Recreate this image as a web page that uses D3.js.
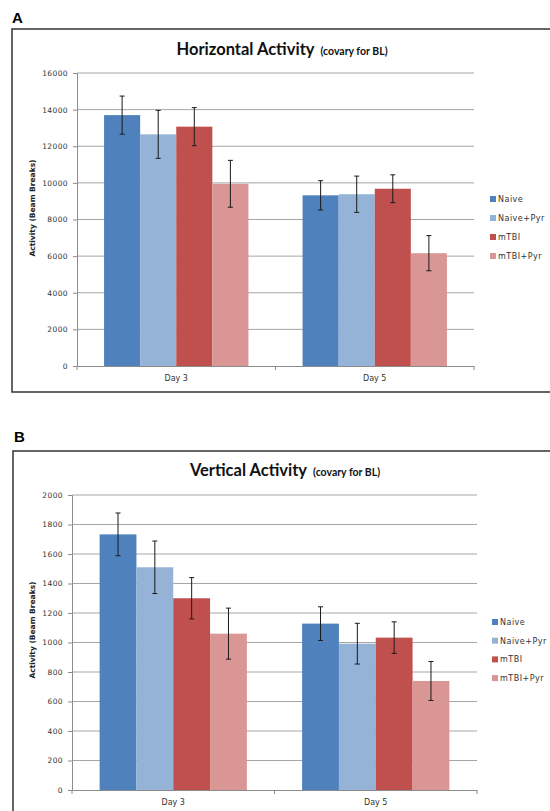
<!DOCTYPE html>
<html><head><meta charset="utf-8">
<script src="https://cdn.jsdelivr.net/npm/d3@7/dist/d3.min.js"></script>
<style>body{margin:0;background:#fff;} svg{display:block;}</style>
</head><body>
<svg id="c" width="550" height="811"></svg>
<script>
const categories = ["Day 3", "Day 5"];
const seriesNames = ["Naive", "Naive+Pyr", "mTBI", "mTBI+Pyr"];
const seriesColors = ["#4F81BD", "#95B3D7", "#C0504D", "#D99694"];

// Horizontal activity (panel A)
const hNaive = [13700, 9320];
const hNaivePyr = [12650, 9380];
const hMTBI = [13070, 9680];
const hMTBIPyr = [9950, 6160];
const hNaiveErr = [1040, 800];
const hNaivePyrErr = [1310, 990];
const hMTBIErr = [1040, 760];
const hMTBIPyrErr = [1280, 960];
const hTicks = [0, 2000, 4000, 6000, 8000, 10000, 12000, 14000, 16000];

// Vertical activity (panel B)
const vNaive = [1733, 1128];
const vNaivePyr = [1510, 992];
const vMTBI = [1300, 1033];
const vMTBIPyr = [1060, 739];
const vNaiveErr = [145, 114];
const vNaivePyrErr = [178, 138];
const vMTBIErr = [140, 107];
const vMTBIPyrErr = [173, 132];
const vTicks = [0, 200, 400, 600, 800, 1000, 1200, 1400, 1600, 1800, 2000];

const svg = d3.select("#c");

function drawPanel(cfg) {
  const g = svg.append("g");
  g.append("text").attr("x", cfg.letterX).attr("y", cfg.letterY)
    .attr("font-family", "Liberation Sans, Arial, sans-serif").attr("font-weight", "bold")
    .attr("font-size", 15).attr("fill", "#000").text(cfg.letter);
  g.append("rect").attr("x", cfg.frame[0]).attr("y", cfg.frame[1])
    .attr("width", cfg.frame[2]).attr("height", cfg.frame[3])
    .attr("fill", "#fff").attr("stroke", "#333").attr("stroke-width", 1.5);
  const t = g.append("text").attr("x", cfg.titleX).attr("y", cfg.titleY)
    .attr("text-anchor", "middle").attr("font-family", "Lato, 'Open Sans', sans-serif")
    .attr("font-weight", "bold").attr("fill", "#111");
  t.append("tspan").attr("font-size", 16.5).text(cfg.title);
  t.append("tspan").attr("font-size", 10.5).attr("dx", 6).text("(covary for BL)");

  const x0 = d3.scaleBand().domain(categories).range([cfg.left, cfg.right]).paddingInner(0).paddingOuter(0);
  // Excel-style gap width of 150%: 0.75 bar width on each side of the group
  const x1 = d3.scaleBand().domain(seriesNames).range([0, x0.bandwidth()]).paddingInner(0).paddingOuter(0.75);
  const y = d3.scaleLinear().domain([0, cfg.ticks[cfg.ticks.length - 1]]).range([cfg.bottom, cfg.top]);

  g.append("g").selectAll("line").data(cfg.ticks.slice(1)).join("line")
    .attr("x1", cfg.left).attr("x2", cfg.right)
    .attr("y1", d => y(d)).attr("y2", d => y(d))
    .attr("stroke", "#a6a6a6").attr("stroke-width", 1);

  const rows = categories.map((c, i) => seriesNames.map((s, j) => ({
    cat: c, s, v: cfg.values[j][i], e: cfg.errors[j][i], color: seriesColors[j]
  })));
  const bg = g.append("g");
  rows.forEach(r => {
    bg.selectAll(null).data(r).join("rect")
      .attr("x", d => x0(d.cat) + x1(d.s))
      .attr("y", d => y(d.v))
      .attr("width", x1.bandwidth())
      .attr("height", d => y(0) - y(d.v))
      .attr("fill", d => d.color);
  });
  const eg = g.append("g").attr("stroke", "#1a1a1a").attr("stroke-width", 1);
  rows.flat().forEach(d => {
    const cx = x0(d.cat) + x1(d.s) + x1.bandwidth() / 2;
    eg.append("line").attr("x1", cx).attr("x2", cx).attr("y1", y(d.v + d.e)).attr("y2", y(d.v - d.e));
    eg.append("line").attr("x1", cx - 2.5).attr("x2", cx + 2.5).attr("y1", y(d.v + d.e)).attr("y2", y(d.v + d.e));
    eg.append("line").attr("x1", cx - 2.5).attr("x2", cx + 2.5).attr("y1", y(d.v - d.e)).attr("y2", y(d.v - d.e));
  });

  const ya = g.append("g").attr("transform", `translate(${cfg.left},0)`)
    .call(d3.axisLeft(y).tickValues(cfg.ticks).tickSize(4).tickPadding(5).tickFormat(d3.format("d")));
  ya.select(".domain").attr("stroke", "#8c8c8c");
  ya.selectAll(".tick line").attr("stroke", "#8c8c8c");
  ya.selectAll("text").attr("font-family", "'DejaVu Sans', sans-serif").attr("font-size", 7.5)
    .attr("fill", "#333").attr("letter-spacing", 0.4);

  const xa = g.append("g").attr("transform", `translate(0,${cfg.bottom})`)
    .call(d3.axisBottom(x0).tickSize(0).tickPadding(9));
  xa.select(".domain").attr("stroke", "#8c8c8c");
  xa.selectAll("text").attr("font-family", "'DejaVu Sans', sans-serif").attr("font-size", 8).attr("fill", "#333");
  const bounds = [cfg.left, x0(categories[1]), cfg.right];
  g.append("g").selectAll("line").data(bounds).join("line")
    .attr("x1", d => d).attr("x2", d => d).attr("y1", cfg.bottom).attr("y2", cfg.bottom + 4)
    .attr("stroke", "#8c8c8c");

  g.append("text").attr("transform", `translate(${cfg.yTitleX},${cfg.yTitleY}) rotate(-90)`)
    .attr("text-anchor", "middle").attr("font-family", "'DejaVu Sans', sans-serif")
    .attr("font-weight", "bold").attr("font-size", 7.5).attr("fill", "#222")
    .text("Activity (Beam Breaks)");

  const lg = g.append("g");
  seriesNames.forEach((s, i) => {
    const ly = cfg.legendY + i * cfg.legendStep;
    lg.append("rect").attr("x", cfg.legendX).attr("y", ly - 3).attr("width", 6).attr("height", 6).attr("fill", seriesColors[i]);
    lg.append("text").attr("x", cfg.legendX + 8).attr("y", ly + 3)
      .attr("font-family", "'DejaVu Sans', sans-serif").attr("font-size", 8).attr("fill", "#333")
      .attr("letter-spacing", 0.5).text(s);
  });
}

drawPanel({
  letter: "A", letterX: 12, letterY: 23,
  frame: [12, 29, 560, 363],
  title: "Horizontal Activity", titleX: 282, titleY: 55,
  left: 77, right: 474, top: 73, bottom: 366,
  ticks: hTicks,
  values: [hNaive, hNaivePyr, hMTBI, hMTBIPyr],
  errors: [hNaiveErr, hNaivePyrErr, hMTBIErr, hMTBIPyrErr],
  yTitleX: 35, yTitleY: 208,
  legendX: 490, legendY: 199, legendStep: 19
});

drawPanel({
  letter: "B", letterX: 14, letterY: 442,
  frame: [13, 451, 560, 380],
  title: "Vertical Activity", titleX: 285, titleY: 476,
  left: 72, right: 477, top: 495, bottom: 790,
  ticks: vTicks,
  values: [vNaive, vNaivePyr, vMTBI, vMTBIPyr],
  errors: [vNaiveErr, vNaivePyrErr, vMTBIErr, vMTBIPyrErr],
  yTitleX: 35, yTitleY: 630,
  legendX: 492, legendY: 622, legendStep: 18.7
});
</script>
</body></html>
